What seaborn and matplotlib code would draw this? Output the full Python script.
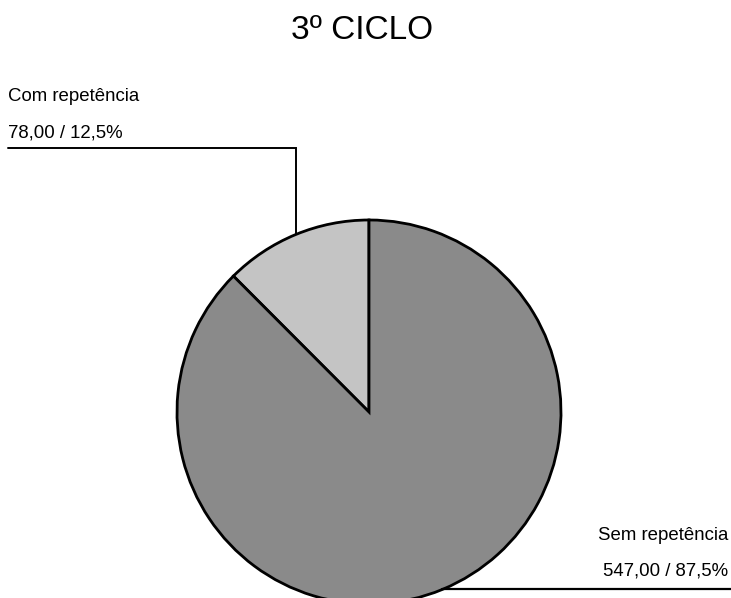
import numpy as np
import matplotlib
matplotlib.use('Agg')
import matplotlib.pyplot as plt
import seaborn as sns

# dados do gráfico
categorias = ['Com repetência', 'Sem repetência']
valores = [78.0, 547.0]
titulo = '3º CICLO'
cores = ['#c4c4c4', '#8a8a8a']

sns.set_theme(style='white')
plt.rcParams['font.family'] = ['Liberation Sans', 'DejaVu Sans']
plt.rcParams['text.color'] = 'black'

W, H = 731, 598
fig = plt.figure(figsize=(W / 100, H / 100), dpi=100)
ax = fig.add_axes([0, 0, 1, 1])

# pie em coordenadas de pixel (y para cima)
cx, cy, r = 369, H - 412, 192
wedges, _ = ax.pie(valores, colors=cores, startangle=90, counterclock=True,
                   center=(cx, cy), radius=r, frame=False,
                   wedgeprops=dict(edgecolor='black', linewidth=2.0))
ax.set_xlim(0, W)
ax.set_ylim(0, H)
ax.set_aspect('equal')
ax.axis('off')

total = sum(valores)
def rotulo(v):
    pct = 100 * v / total
    return f"{v:.2f}".replace('.', ',') + " / " + f"{pct:.1f}".replace('.', ',') + "%"

# linhas de chamada a partir do meio de cada fatia
for w, cat, v in zip(wedges, categorias, valores):
    ang = np.deg2rad((w.theta1 + w.theta2) / 2)
    px, py = cx + r * np.cos(ang), cy + r * np.sin(ang)
    if np.cos(ang) < 0:
        y_lin = H - 148
        ax.plot([px, px, 8], [py, y_lin, y_lin], color='black', lw=1.4,
                solid_joinstyle='miter', zorder=0)
        ax.text(8, H - 101, cat, fontsize=13.4, ha='left', va='baseline', color='black')
        ax.text(8, H - 137, rotulo(v), fontsize=13.4, ha='left', va='baseline', color='black')
    else:
        ax.plot([px, W], [py, py], color='black', lw=1.6, zorder=3)
        ax.text(728, H - 540, cat, fontsize=13.4, ha='right', va='baseline', color='black')
        ax.text(728, H - 575, rotulo(v), fontsize=13.4, ha='right', va='baseline', color='black')

ax.text(362, H - 39, titulo, fontsize=24, ha='center', va='baseline', color='black')

fig.savefig('out.png', dpi=100)
